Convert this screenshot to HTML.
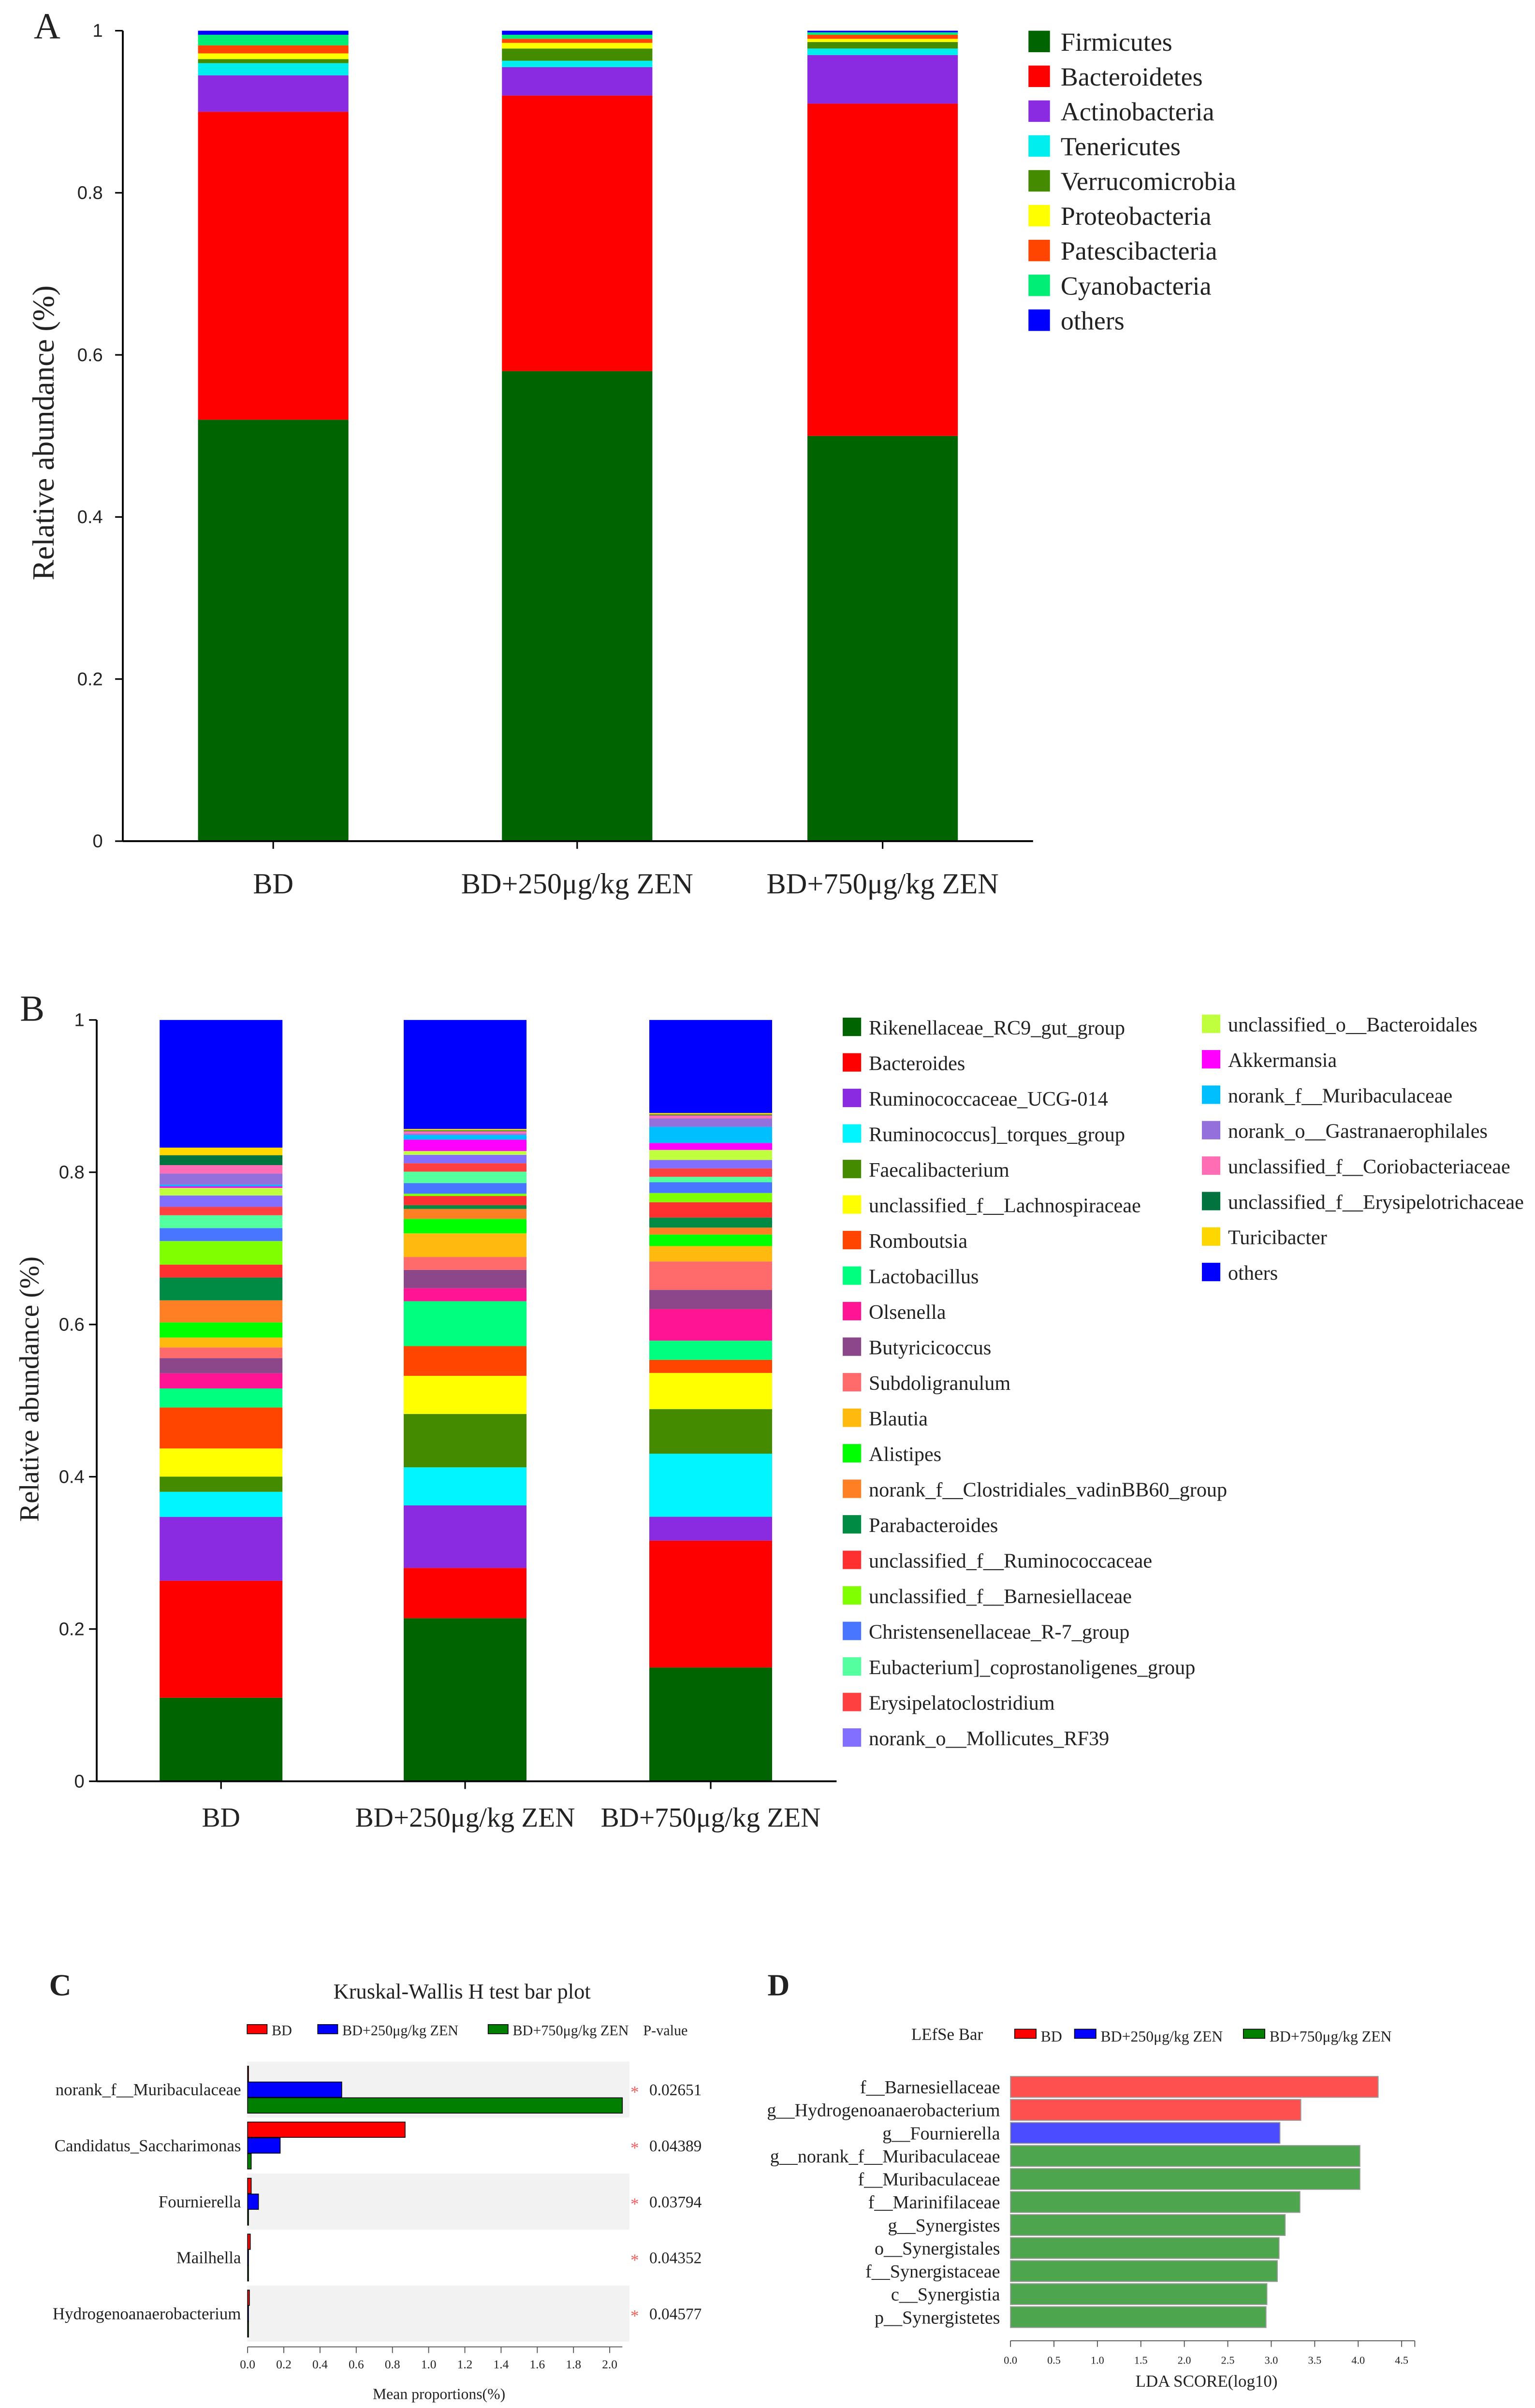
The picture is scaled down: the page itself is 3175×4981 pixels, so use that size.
<!DOCTYPE html>
<html><head><meta charset="utf-8">
<style>
html,body{margin:0;padding:0;background:#fff;}
svg{display:block;}
text{font-family:"Liberation Serif",serif;fill:#222;}
.sans{font-family:"Liberation Sans",sans-serif;}
</style></head>
<body>
<svg id="fig" width="3175" height="4981" viewBox="0 0 1000 1568.8" xmlns="http://www.w3.org/2000/svg">
<text x="22" y="25" font-size="24">A</text>
<text x="13" y="665" font-size="24">B</text>
<text x="32" y="1300" font-size="20" font-weight="bold">C</text>
<text x="500" y="1300" font-size="20" font-weight="bold">D</text>
<g id="gA"></g>
<g id="gB"></g>
<g id="gC"></g>
<g id="gD"></g>
</svg>
<script>
// ---------- Panel A data ----------
const groupsA = ["BD","BD+250μg/kg ZEN","BD+750μg/kg ZEN"];
const phylaA = ["Firmicutes","Bacteroidetes","Actinobacteria","Tenericutes","Verrucomicrobia","Proteobacteria","Patescibacteria","Cyanobacteria","others"];
const colorsA = ["#006400","#FF0000","#8A2BE2","#00EEEE","#458B00","#FFFF00","#FF4500","#00EE76","#0000FF"];
const valsA_BD = [0.52,0.38,0.045,0.015,0.005,0.007,0.01,0.013,0.005];
const valsA_250 = [0.58,0.34,0.035,0.008,0.015,0.007,0.005,0.005,0.005];
const valsA_750 = [0.50,0.41,0.06,0.008,0.008,0.004,0.005,0.003,0.002];
const ticksA = [0,0.2,0.4,0.6,0.8,1];
const tickLabelsA = ["0","0.2","0.4","0.6","0.8","1"];
// ---------- Panel B data ----------
const generaB = ["Rikenellaceae_RC9_gut_group","Bacteroides","Ruminococcaceae_UCG-014","Ruminococcus]_torques_group","Faecalibacterium","unclassified_f__Lachnospiraceae","Romboutsia","Lactobacillus","Olsenella","Butyricicoccus","Subdoligranulum","Blautia","Alistipes","norank_f__Clostridiales_vadinBB60_group","Parabacteroides","unclassified_f__Ruminococcaceae","unclassified_f__Barnesiellaceae","Christensenellaceae_R-7_group","Eubacterium]_coprostanoligenes_group","Erysipelatoclostridium","norank_o__Mollicutes_RF39","unclassified_o__Bacteroidales","Akkermansia","norank_f__Muribaculaceae","norank_o__Gastranaerophilales","unclassified_f__Coriobacteriaceae","unclassified_f__Erysipelotrichaceae","Turicibacter","others"];
const colorsB = ["#006400","#FF0000","#8A2BE2","#00F5FF","#458B00","#FFFF00","#FF4500","#00FF7F","#FF1493","#8B4789","#FF6A6A","#FFB90F","#00FF00","#FF7F24","#008B45","#FF3030","#7FFF00","#4876FF","#54FF9F","#FF4040","#836FFF","#C0FF3E","#FF00FF","#00BFFF","#9370DB","#FF6EB4","#00733E","#FFD700","#0000FF"];
const valsB_BD = [0.110,0.154,0.084,0.033,0.020,0.037,0.054,0.025,0.020,0.020,0.014,0.013,0.020,0.029,0.030,0.017,0.031,0.017,0.017,0.011,0.015,0.010,0.002,0.002,0.015,0.011,0.013,0.010,0.168];
const valsB_250 = [0.214,0.066,0.082,0.050,0.070,0.050,0.039,0.059,0.017,0.024,0.017,0.031,0.019,0.013,0.005,0.012,0.003,0.014,0.015,0.011,0.011,0.005,0.015,0.006,0.002,0.003,0.001,0.002,0.143];
const valsB_750 = [0.148,0.165,0.031,0.082,0.058,0.047,0.017,0.025,0.041,0.025,0.037,0.020,0.015,0.009,0.013,0.020,0.012,0.014,0.007,0.011,0.011,0.013,0.009,0.021,0.011,0.004,0.001,0.002,0.121];
// ---------- Panel C data ----------
const taxaC = ["norank_f__Muribaculaceae","Candidatus_Saccharimonas","Fournierella","Mailhella","Hydrogenoanaerobacterium"];
const valsC_BD = [0.0,0.87,0.02,0.015,0.01];
const valsC_250 = [0.52,0.18,0.06,0.005,0.004];
const valsC_750 = [2.07,0.02,0.005,0.002,0.002];
const pvalsC = ["0.02651","0.04389","0.03794","0.04352","0.04577"];
const ticksC = [0,0.2,0.4,0.6,0.8,1.0,1.2,1.4,1.6,1.8,2.0];
// ---------- Panel D data ----------
const taxaD = ["f__Barnesiellaceae","g__Hydrogenoanaerobacterium","g__Fournierella","g__norank_f__Muribaculaceae","f__Muribaculaceae","f__Marinifilaceae","g__Synergistes","o__Synergistales","f__Synergistaceae","c__Synergistia","p__Synergistetes"];
const ldaD = [4.23,3.34,3.10,4.02,4.02,3.33,3.16,3.09,3.07,2.95,2.94];
const groupD = [0,0,1,2,2,2,2,2,2,2,2];
const ticksD = [0,0.5,1,1.5,2,2.5,3,3.5,4,4.5];

const NS="http://www.w3.org/2000/svg";
function mk(parent,tag,attrs,txt){const e=document.createElementNS(NS,tag);for(const k in attrs)e.setAttribute(k,attrs[k]);if(txt!==undefined)e.textContent=txt;parent.appendChild(e);return e;}

// ===== Panel A =====
(function(){
const g=document.getElementById('gA');
const y0=548,y1=20,ax=80; const yA=v=>y0-(y0-y1)*v;
const barX=[129,327,526],bw=98; const sets=[valsA_BD,valsA_250,valsA_750];
sets.forEach((vals,i)=>{let acc=0;vals.forEach((v,j)=>{
 const r=mk(g,'rect',{x:barX[i],y:yA(acc+v),width:bw,height:yA(acc)-yA(acc+v),fill:colorsA[j]});
 
 
 acc+=v;});
 const t=mk(g,'text',{x:barX[i]+bw/2,y:582,'font-size':19,'text-anchor':'middle'},groupsA[i]);
 
 
});
const al=mk(g,'line',{x1:ax,y1:y1,x2:ax,y2:y0,stroke:'#000','stroke-width':1.2});


const xl=mk(g,'line',{x1:ax,y1:y0,x2:673,y2:y0,stroke:'#000','stroke-width':1.2});


[178,376,575].forEach(x=>mk(g,'line',{x1:x,y1:y0,x2:x,y2:y0+5,stroke:'#000'}));
ticksA.forEach((v,i)=>{mk(g,'line',{x1:ax-5,y1:yA(v),x2:ax,y2:yA(v),stroke:'#000'});
 const t=mk(g,'text',{x:ax-13,y:yA(v)+4,'font-size':12,'text-anchor':'end',class:'sans'},tickLabelsA[i]);
 
 });
const yt=mk(g,'text',{x:0,y:0,'font-size':20,'text-anchor':'middle',transform:'translate(35,282) rotate(-90)'},'Relative abundance (%)');


phylaA.forEach((p,j)=>{const y=27+j*22.7;
 mk(g,'rect',{x:670,y:y-7,width:14,height:14,fill:colorsA[j]});
 const t=mk(g,'text',{x:691,y:y+6,'font-size':17},p);
 
 });
})();

// ===== Panel B =====
(function(){
const g=document.getElementById('gB');
const y0=1160.5,y1=664.5,ax=63; const yB=v=>y0-(y0-y1)*v;
const barX=[104,263,423],bw=80; const sets=[valsB_BD,valsB_250,valsB_750];
sets.forEach((vals,i)=>{let acc=0;const tot=vals.reduce((a,b)=>a+b,0);vals.forEach((v,j)=>{
 const a=acc/tot,b=(acc+v)/tot;
 const r=mk(g,'rect',{x:barX[i],y:yB(b),width:bw,height:Math.max(0,yB(a)-yB(b)),fill:colorsB[j]});
 
 
 acc+=v;});
 const t=mk(g,'text',{x:barX[i]+bw/2,y:1190,'font-size':18,'text-anchor':'middle'},groupsA[i]);
 
 
});
const al=mk(g,'line',{x1:ax,y1:y1,x2:ax,y2:y0,stroke:'#000','stroke-width':1.2});


const xl=mk(g,'line',{x1:ax,y1:y0,x2:545,y2:y0,stroke:'#000','stroke-width':1.2});


[144,303,463].forEach(x=>mk(g,'line',{x1:x,y1:y0,x2:x,y2:y0+5,stroke:'#000'}));
ticksA.forEach((v,i)=>{mk(g,'line',{x1:ax-5,y1:yB(v),x2:ax,y2:yB(v),stroke:'#000'});
 const t=mk(g,'text',{x:ax-8,y:yB(v)+4,'font-size':12,'text-anchor':'end',class:'sans'},tickLabelsA[i]);
 
 });
const yt=mk(g,'text',{x:0,y:0,'font-size':18,'text-anchor':'middle',transform:'translate(25,905) rotate(-90)'},'Relative abundance (%)');


generaB.forEach((n,j)=>{let x,y;if(j<21){x=549;y=669+j*23.15;}else{x=783;y=667+(j-21)*23.1;}
 mk(g,'rect',{x:x,y:y-6,width:12,height:12,fill:colorsB[j]});
 const t=mk(g,'text',{x:x+17,y:y+5,'font-size':13.3},n);
 
 });
})();

// ===== Panel C =====
(function(){
const g=document.getElementById('gC');
const x0=161.3,xs=(397.2-161.3)/2.0; const xC=v=>x0+v*xs;
const rowY=[1361.6,1398,1434.6,1471,1507.5];
const tt=mk(g,'text',{x:301,y:1302,'font-size':14,'text-anchor':'middle'},'Kruskal-Wallis H test bar plot');


const leg=[["BD","#FF0000",161],["BD+250μg/kg ZEN","#0000FF",207],["BD+750μg/kg ZEN","#007F00",318]];
leg.forEach(l=>{mk(g,'rect',{x:l[2],y:1319,width:13,height:6,fill:l[1],stroke:'#000','stroke-width':0.5});
 const t=mk(g,'text',{x:l[2]+16,y:1326,'font-size':9.5},l[0]);
 
 });
const pv=mk(g,'text',{x:419,y:1326,'font-size':9.5},'P-value');


[0,2,4].forEach(i=>mk(g,'rect',{x:161,y:rowY[i]-18.5,width:249,height:36.5,fill:'#F2F2F2'}));
const cols=["#FF0000","#0000FF","#007F00"],sets=[valsC_BD,valsC_250,valsC_750];
taxaC.forEach((n,i)=>{
 sets.forEach((vals,k)=>{const r=mk(g,'rect',{x:xC(0),y:rowY[i]-15.5+k*10.3,width:Math.max(0.6,xC(vals[i])-xC(0)),height:10,fill:cols[k],stroke:'#000','stroke-width':0.5});
  
  });
 const t=mk(g,'text',{x:157,y:rowY[i]+3.5,'font-size':11,'text-anchor':'end'},n);
 
 
 mk(g,'text',{x:413.5,y:rowY[i]+5,'font-size':11,'text-anchor':'middle',style:'fill:#F06060'},'*');
 const p=mk(g,'text',{x:423,y:rowY[i]+3.5,'font-size':10.5},pvalsC[i]);
 
 
});
mk(g,'line',{x1:xC(0),y1:1529,x2:xC(2.07),y2:1529,stroke:'#555','stroke-width':0.6});
ticksC.forEach(v=>{mk(g,'line',{x1:xC(v),y1:1529,x2:xC(v),y2:1533,stroke:'#555','stroke-width':0.6});
 const t=mk(g,'text',{x:xC(v),y:1543,'font-size':8,'text-anchor':'middle'},v.toFixed(1));
 
 });
const xt=mk(g,'text',{x:286,y:1563,'font-size':10,'text-anchor':'middle'},'Mean proportions(%)');


})();

// ===== Panel D =====
(function(){
const g=document.getElementById('gD');
const x0=658.3,xs=(884.8-658.3)/4; const xD=v=>x0+v*xs;
const lt=mk(g,'text',{x:617,y:1329,'font-size':11,'text-anchor':'middle'},'LEfSe Bar');


const cols=["#FF5050","#4B4BFF","#4DA64D"];
const leg=[["BD","#FF0000",661],["BD+250μg/kg ZEN","#0000FF",700],["BD+750μg/kg ZEN","#007F00",810]];
leg.forEach(l=>{mk(g,'rect',{x:l[2],y:1322,width:14,height:6,fill:l[1],stroke:'#000','stroke-width':0.5});
 const t=mk(g,'text',{x:l[2]+17,y:1330,'font-size':10},l[0]);
 
 });
taxaD.forEach((n,i)=>{const y=1352.8+i*15.0;
 const r=mk(g,'rect',{x:x0,y:y,width:xD(ldaD[i])-x0,height:13.6,fill:cols[groupD[i]],stroke:'#999','stroke-width':0.6});
 
 
 const t=mk(g,'text',{x:651.5,y:y+11,'font-size':12,'text-anchor':'end'},n);
 
 });
mk(g,'line',{x1:x0,y1:1525,x2:921.7,y2:1525,stroke:'#555','stroke-width':0.6});
ticksD.forEach(v=>{mk(g,'line',{x1:xD(v),y1:1525,x2:xD(v),y2:1529,stroke:'#555','stroke-width':0.6});
 const t=mk(g,'text',{x:xD(v),y:1540,'font-size':7,'text-anchor':'middle'},v.toFixed(1));
 
 });
mk(g,'line',{x1:921.7,y1:1525,x2:921.7,y2:1529,stroke:'#555','stroke-width':0.6});
const xt=mk(g,'text',{x:786,y:1555,'font-size':11,'text-anchor':'middle'},'LDA SCORE(log10)');


})();
</script>
</body></html>
